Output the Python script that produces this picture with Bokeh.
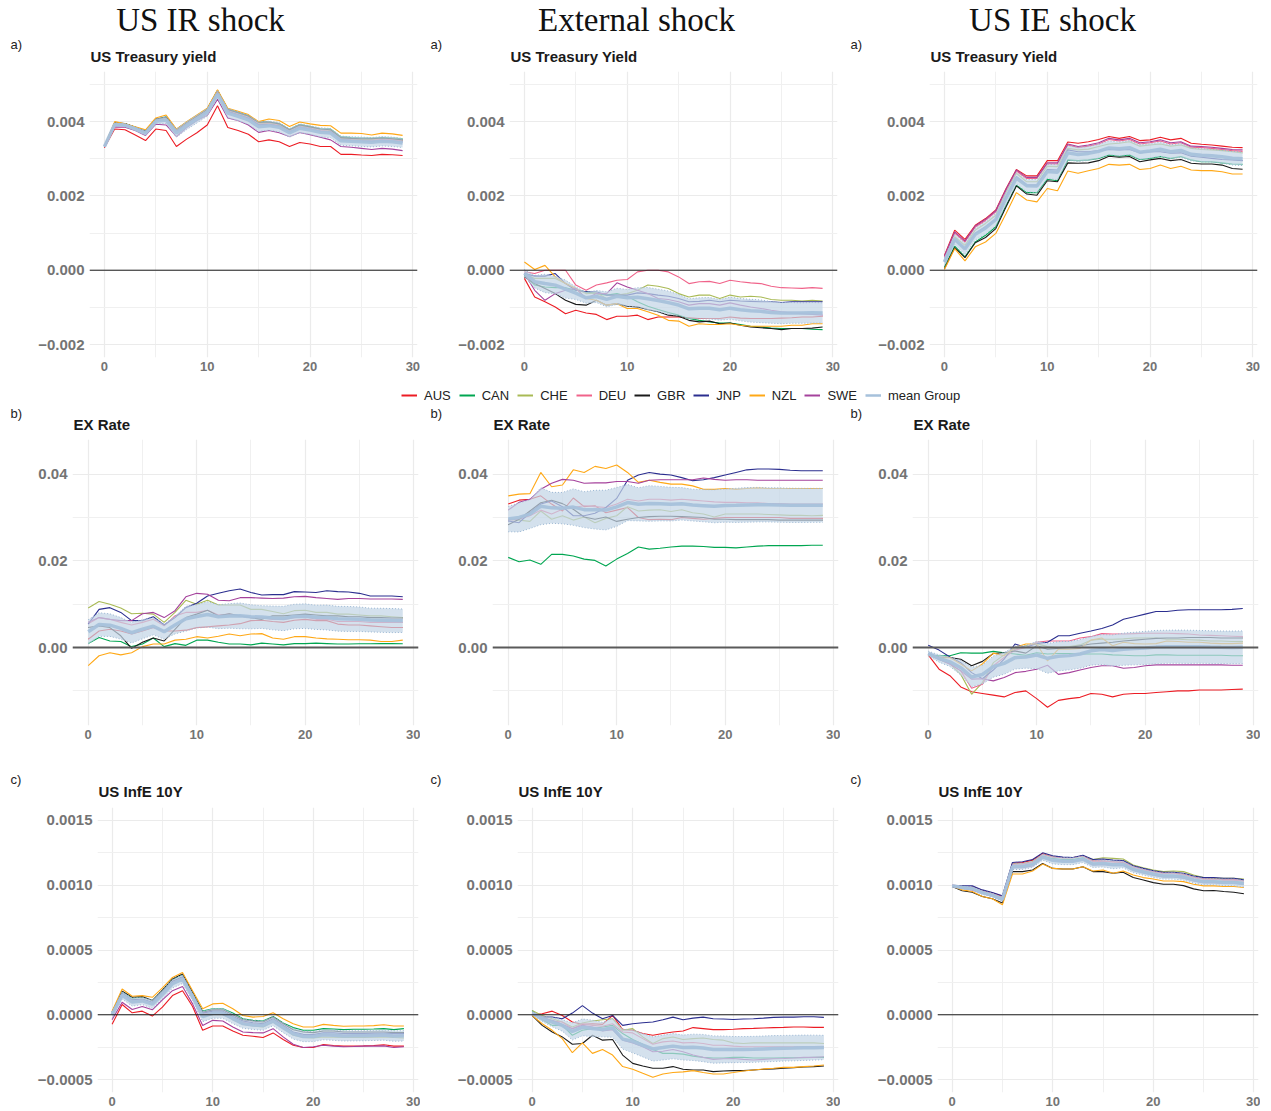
import math
from bokeh.plotting import figure
from bokeh.models import (Label, Legend, LegendItem, FixedTicker,
                          CustomJSTickFormatter, Span, Range1d)
from bokeh.layouts import column, row
from bokeh.embed import file_html
from bokeh.resources import INLINE

# ---------------------------------------------------------------- data
HORIZON = list(range(30))
COUNTRIES = ["AUS", "CAN", "CHE", "DEU", "GBR", "JNP", "NZL", "SWE"]
SHOCKS = ["US IR shock", "External shock", "US IE shock"]
TITLES = [["US Treasury yield", "US Treasury Yield", "US Treasury Yield"],
          ["EX Rate", "EX Rate", "EX Rate"],
          ["US InfE 10Y", "US InfE 10Y", "US InfE 10Y"]]
TAGS = ["a)", "b)", "c)"]
UNITS = [1e-4, 1e-3, 1e-5]          # the lists below are in these units
X_TICKS = [0, 10, 20, 30]
Y_TICKS = [[-0.002, 0.0, 0.002, 0.004],
           [0.0, 0.02, 0.04],
           [-0.0005, 0.0, 0.0005, 0.001, 0.0015]]
Y_DECIMALS = [3, 2, 4]

# --- row a) US Treasury yield (1e-4)
TY_IR_AUS = [33.0, 38.0, 37.8, 36.4, 34.9, 38.0, 37.6, 33.3, 35.3, 37.0, 39.1, 44.3, 38.4, 37.6, 36.6, 34.6, 35.1, 34.6, 33.3, 34.4, 34.0, 33.3, 33.3, 31.2, 31.2, 31.0, 30.9, 31.2, 31.1, 30.9]
TY_IR_CAN = [33.4, 39.6, 39.4, 38.5, 37.5, 40.6, 41.3, 37.8, 39.8, 41.6, 43.4, 48.3, 43.3, 42.5, 41.6, 39.8, 39.9, 39.5, 37.9, 39.2, 38.7, 38.1, 38.0, 35.9, 35.7, 35.6, 35.5, 35.7, 35.6, 35.4]
TY_IR_CHE = [33.3, 39.5, 39.4, 38.4, 37.3, 40.5, 41.0, 37.6, 39.6, 41.4, 43.2, 48.2, 43.1, 42.2, 41.3, 39.5, 39.6, 39.2, 37.6, 38.9, 38.4, 37.8, 37.6, 35.5, 35.3, 35.2, 35.2, 35.4, 35.3, 35.0]
TY_IR_DEU = [33.3, 39.3, 39.2, 38.3, 37.1, 40.3, 40.8, 37.4, 39.4, 41.2, 43.0, 47.9, 42.9, 42.0, 41.1, 39.3, 39.4, 39.0, 37.4, 38.7, 38.2, 37.6, 37.4, 35.3, 35.1, 35.0, 35.0, 35.2, 35.1, 34.8]
TY_IR_GBR = [33.4, 39.7, 39.5, 38.5, 37.4, 40.7, 41.2, 37.9, 39.8, 41.5, 43.3, 48.4, 43.3, 42.4, 41.5, 39.8, 39.9, 39.4, 37.8, 39.1, 38.6, 38.0, 37.8, 35.7, 35.5, 35.4, 35.4, 35.6, 35.4, 35.1]
TY_IR_JNP = [33.3, 39.2, 39.1, 38.2, 37.0, 40.2, 40.6, 37.3, 39.3, 41.0, 42.8, 47.7, 42.7, 41.8, 40.9, 39.1, 39.2, 38.8, 37.2, 38.5, 38.0, 37.4, 37.2, 35.1, 34.9, 34.8, 34.7, 34.9, 34.8, 34.5]
TY_IR_NZL = [33.3, 40.0, 39.4, 38.6, 37.8, 41.0, 41.8, 38.0, 40.0, 41.8, 43.6, 48.6, 43.6, 42.8, 41.9, 40.0, 40.7, 40.3, 38.7, 39.9, 39.4, 39.0, 38.9, 36.9, 36.9, 36.8, 36.4, 36.9, 36.7, 36.3]
TY_IR_SWE = [33.2, 38.6, 38.5, 37.6, 36.3, 39.3, 39.1, 36.0, 38.4, 40.3, 41.7, 46.0, 41.0, 40.3, 39.1, 37.1, 37.6, 37.0, 36.0, 37.1, 36.5, 35.8, 35.1, 33.3, 33.1, 32.8, 32.5, 32.8, 32.6, 32.2]

TY_EX_AUS = [-2.2, -7.2, -8.5, -9.9, -11.7, -10.8, -11.5, -11.9, -13.3, -12.4, -12.4, -12.1, -13.3, -12.6, -12.6, -12.6, -12.8, -13.0, -13.0, -13.0, -12.6, -12.9, -13.0, -13.0, -13.0, -12.9, -12.8, -12.6, -12.6, -12.4]
TY_EX_CAN = [-1.3, -4.0, -4.5, -4.7, -4.7, -5.4, -5.8, -6.3, -6.7, -6.3, -7.0, -8.5, -9.7, -10.6, -11.4, -12.1, -13.0, -13.5, -13.9, -14.2, -14.2, -14.6, -15.1, -15.3, -15.6, -15.7, -15.7, -15.7, -15.9, -16.0]
TY_EX_CHE = [-0.9, -2.2, -2.2, -2.2, -3.6, -4.9, -6.3, -6.1, -7.6, -6.7, -6.3, -5.4, -4.0, -4.3, -4.9, -6.3, -7.2, -6.7, -6.7, -7.6, -6.7, -7.2, -7.0, -7.2, -7.9, -8.1, -8.1, -8.3, -8.1, -8.3]
TY_EX_DEU = [-0.45, -0.9, 0.0, 0.0, 0.0, -4.0, -5.4, -4.0, -3.4, -2.7, -2.5, -0.45, 0.0, 0.0, -0.45, -1.8, -3.6, -3.1, -3.0, -3.6, -2.7, -3.1, -3.4, -3.6, -4.3, -4.7, -4.8, -4.9, -4.7, -4.9]
TY_EX_GBR = [-1.8, -3.6, -4.9, -6.3, -8.1, -9.2, -9.4, -8.1, -9.4, -9.0, -9.7, -9.9, -10.6, -11.2, -12.1, -12.4, -13.5, -13.9, -13.7, -14.4, -14.2, -14.8, -15.3, -15.5, -15.7, -16.0, -15.7, -15.7, -15.6, -15.3]
TY_EX_JNP = [-0.9, -1.6, -1.6, -0.9, -3.6, -5.4, -5.8, -5.8, -6.7, -6.7, -6.7, -6.1, -6.3, -6.7, -7.0, -7.6, -8.5, -8.4, -8.1, -8.5, -8.1, -8.3, -8.4, -8.5, -8.5, -8.7, -8.5, -8.5, -8.5, -8.5]
TY_EX_NZL = [2.2, 0.2, 1.3, -1.8, -3.6, -4.9, -7.6, -8.1, -9.4, -9.0, -10.3, -10.3, -11.2, -12.1, -13.5, -13.7, -15.1, -14.4, -14.6, -14.6, -14.4, -14.8, -15.1, -15.1, -15.1, -15.1, -14.8, -14.8, -14.4, -14.4]
TY_EX_SWE = [-0.9, -5.4, -8.1, -6.3, -5.4, -4.9, -7.6, -6.3, -6.3, -3.4, -4.5, -5.4, -6.3, -7.6, -7.9, -8.5, -9.4, -9.0, -9.0, -9.4, -8.8, -9.4, -9.9, -10.3, -10.8, -11.2, -11.5, -11.7, -11.9, -12.1]

TY_IE_AUS = [4.0, 10.8, 8.3, 12.1, 13.9, 16.2, 22.0, 27.1, 25.4, 25.4, 29.5, 29.5, 34.5, 34.2, 34.6, 35.2, 36.0, 35.5, 36.0, 34.9, 35.1, 35.8, 35.1, 35.5, 34.2, 33.9, 33.7, 33.4, 33.1, 33.0]
TY_IE_CAN = [0.9, 6.5, 3.6, 7.6, 9.4, 11.7, 17.5, 22.9, 20.9, 20.9, 24.5, 24.1, 29.7, 29.5, 29.7, 30.1, 31.0, 30.7, 31.0, 29.8, 30.1, 30.6, 30.1, 30.6, 29.7, 29.2, 29.2, 28.9, 28.6, 28.5]
TY_IE_CHE = [2.7, 9.0, 6.7, 10.8, 12.6, 14.8, 20.9, 26.1, 23.8, 23.8, 28.0, 27.9, 32.8, 32.4, 32.6, 33.3, 34.0, 34.2, 34.6, 33.4, 33.7, 34.0, 33.4, 33.7, 32.8, 32.5, 32.4, 32.2, 31.9, 31.6]
TY_IE_DEU = [3.6, 10.0, 7.6, 11.6, 13.4, 15.7, 21.5, 26.7, 24.7, 24.7, 28.6, 28.6, 33.7, 33.0, 33.4, 34.0, 35.2, 34.8, 35.2, 34.0, 34.3, 34.8, 34.0, 34.3, 33.1, 33.0, 32.8, 32.5, 32.2, 32.0]
TY_IE_GBR = [0.4, 6.1, 3.4, 7.4, 8.8, 11.2, 17.1, 22.7, 20.5, 20.2, 24.1, 23.8, 28.9, 28.8, 28.9, 29.5, 30.7, 30.4, 30.6, 29.2, 29.7, 30.1, 29.5, 29.8, 28.8, 28.6, 28.6, 28.3, 27.4, 27.2]
TY_IE_JNP = [2.2, 8.1, 5.8, 9.9, 11.7, 13.7, 19.8, 25.2, 22.9, 22.9, 27.1, 27.0, 32.4, 31.9, 31.9, 32.2, 32.5, 32.4, 32.5, 31.6, 31.9, 31.9, 31.5, 31.6, 30.7, 30.4, 30.1, 29.8, 29.7, 29.5]
TY_IE_NZL = [0.2, 5.8, 2.5, 6.3, 7.6, 9.9, 15.3, 20.9, 18.9, 18.4, 22.0, 21.4, 26.7, 26.1, 26.8, 27.4, 28.5, 28.3, 28.5, 27.1, 27.4, 28.3, 27.4, 28.0, 27.0, 26.8, 26.8, 26.5, 25.9, 25.9]
TY_IE_SWE = [3.8, 10.3, 7.9, 11.9, 13.7, 16.0, 21.8, 27.0, 25.0, 25.0, 28.9, 28.9, 34.0, 33.3, 33.7, 34.3, 35.5, 35.1, 35.5, 34.3, 34.6, 35.1, 34.3, 34.6, 33.4, 33.3, 33.1, 32.8, 32.5, 32.4]

# --- row b) EX Rate (1e-3)
EX_IR_AUS = [1.9, 3.8, 4.2, 3.8, 3.1, 3.8, 4.6, 3.8, 3.8, 4.0, 4.6, 4.8, 5.0, 5.2, 5.5, 6.2, 6.3, 6.0, 5.8, 6.3, 6.5, 6.2, 6.2, 5.4, 5.2, 5.2, 5.0, 4.8, 4.6, 4.6]
EX_IR_CAN = [0.9, 2.3, 1.5, 1.4, 0.2, 0.8, 2.2, 0.2, 0.9, 0.5, 1.7, 1.7, 1.2, 0.8, 0.8, 0.6, 1.0, 0.8, 0.6, 0.9, 0.9, 1.0, 0.9, 0.8, 0.8, 0.85, 0.85, 0.9, 0.9, 0.85]
EX_IR_CHE = [9.1, 10.6, 10.0, 9.1, 7.8, 7.9, 7.7, 5.8, 8.1, 10.9, 10.0, 10.9, 9.8, 9.8, 9.8, 8.8, 8.8, 8.3, 7.8, 8.5, 8.6, 8.1, 8.1, 7.7, 7.7, 7.5, 7.3, 7.3, 7.1, 6.9]
EX_IR_DEU = [5.5, 6.9, 6.5, 5.8, 5.2, 5.8, 6.5, 5.0, 7.3, 8.1, 8.1, 8.6, 7.5, 7.7, 7.3, 6.9, 6.9, 6.5, 6.5, 6.9, 7.1, 6.5, 6.5, 6.0, 6.0, 6.0, 5.8, 5.8, 5.8, 5.8]
EX_IR_GBR = [4.6, 5.0, 4.6, 2.7, -0.2, 1.2, 2.2, 1.5, 4.2, 6.9, 7.7, 8.6, 7.3, 7.8, 7.3, 6.9, 6.5, 7.3, 7.3, 7.5, 7.7, 7.5, 7.3, 7.3, 7.1, 7.1, 6.9, 6.9, 6.8, 6.8]
EX_IR_JNP = [5.4, 8.8, 9.2, 8.1, 6.2, 6.2, 7.1, 5.2, 6.9, 9.2, 10.2, 11.9, 12.5, 13.1, 13.5, 12.7, 12.1, 12.2, 12.2, 12.9, 12.8, 12.7, 13.1, 12.9, 12.8, 12.5, 11.9, 11.9, 11.9, 11.7]
EX_IR_NZL = [-4.2, -1.9, -1.2, -1.7, -1.2, 0.2, 0.8, 0.8, 1.7, 1.9, 2.5, 2.2, 2.6, 3.1, 2.7, 3.1, 3.2, 2.2, 1.9, 2.5, 2.5, 2.2, 2.0, 1.9, 1.8, 1.8, 1.7, 1.4, 1.4, 1.7]
EX_IR_SWE = [5.8, 6.9, 6.5, 6.2, 6.2, 7.8, 8.1, 6.9, 8.5, 11.7, 12.5, 12.3, 10.9, 10.8, 11.5, 11.5, 11.4, 11.3, 11.4, 11.7, 11.8, 11.5, 11.3, 11.1, 11.3, 11.3, 11.2, 11.2, 11.2, 11.1]

EX_EX_AUS = [33.1, 34.0, 34.2, 35.0, 33.1, 31.5, 34.5, 32.5, 32.7, 31.1, 31.7, 32.3, 30.0, 29.5, 29.6, 29.5, 30.0, 29.8, 29.6, 29.8, 30.0, 30.0, 30.0, 30.0, 30.0, 30.0, 29.8, 29.8, 29.8, 29.8]
EX_EX_CAN = [20.8, 19.8, 20.2, 19.2, 21.5, 21.5, 21.1, 20.4, 20.1, 18.8, 20.4, 21.7, 23.2, 22.7, 22.9, 23.2, 23.4, 23.4, 23.3, 23.1, 23.1, 23.0, 23.2, 23.4, 23.5, 23.5, 23.5, 23.5, 23.6, 23.6]
EX_EX_CHE = [29.6, 29.4, 29.1, 31.5, 29.6, 30.4, 29.4, 30.1, 28.8, 29.8, 30.4, 32.5, 31.5, 31.7, 31.8, 31.4, 31.8, 31.1, 30.8, 30.1, 30.8, 30.8, 30.8, 30.8, 30.7, 30.6, 30.5, 30.5, 30.4, 30.5]
EX_EX_DEU = [29.4, 29.6, 30.4, 31.7, 30.8, 31.9, 32.3, 32.7, 32.5, 32.3, 33.1, 34.2, 33.8, 34.2, 34.2, 34.0, 34.2, 34.0, 33.8, 33.6, 33.5, 33.5, 33.4, 33.4, 33.2, 33.2, 33.1, 33.1, 33.1, 33.1]
EX_EX_GBR = [28.3, 29.6, 31.5, 33.4, 34.0, 33.2, 31.9, 30.1, 29.6, 30.1, 29.1, 29.6, 30.0, 30.2, 30.3, 30.3, 30.2, 30.1, 30.0, 29.6, 29.6, 29.5, 29.5, 29.5, 29.5, 29.4, 29.4, 29.4, 29.4, 29.4]
EX_EX_JNP = [29.2, 28.8, 31.1, 33.1, 33.8, 32.5, 30.4, 30.4, 31.0, 32.3, 34.4, 38.6, 39.8, 40.4, 40.0, 39.8, 39.2, 38.5, 38.7, 39.2, 39.8, 40.4, 41.0, 41.2, 41.2, 41.1, 40.9, 40.8, 40.8, 40.8]
EX_EX_NZL = [35.0, 35.4, 35.5, 40.4, 37.1, 37.5, 41.0, 40.4, 41.8, 41.3, 42.1, 40.4, 38.1, 38.6, 38.1, 37.7, 37.7, 37.3, 36.5, 36.5, 36.7, 36.5, 36.7, 36.8, 36.7, 36.7, 36.7, 36.7, 36.7, 36.7]
EX_EX_SWE = [31.7, 33.5, 34.2, 36.5, 37.9, 38.8, 38.6, 37.9, 38.0, 38.0, 38.3, 38.3, 37.9, 38.6, 38.7, 38.7, 38.7, 38.7, 39.1, 38.8, 38.6, 38.7, 38.7, 38.6, 38.6, 38.6, 38.6, 38.6, 38.6, 38.6]

EX_IE_AUS = [-1.7, -5.0, -6.5, -9.1, -10.2, -10.6, -11.0, -11.4, -10.4, -10.0, -11.8, -13.8, -12.2, -11.8, -11.5, -10.6, -10.8, -11.4, -10.8, -10.6, -10.6, -10.4, -10.2, -10.0, -10.0, -9.8, -9.8, -9.8, -9.7, -9.6]
EX_IE_CAN = [-1.7, -1.9, -1.9, -1.2, -1.3, -1.3, -0.9, -1.2, -1.5, -1.8, -1.2, -1.5, -1.4, -1.4, -1.5, -1.5, -1.5, -1.7, -1.8, -1.9, -1.9, -1.7, -1.7, -1.8, -1.8, -1.8, -1.8, -1.8, -1.9, -1.9]
EX_IE_CHE = [-1.7, -2.7, -3.8, -6.2, -10.8, -8.1, -3.5, -1.7, -0.4, 0.4, 0.9, 0.2, 0.0, 0.2, 0.6, 1.7, 1.9, 1.9, 2.0, 2.2, 2.2, 2.2, 1.9, 1.9, 1.8, 1.7, 1.5, 1.5, 1.4, 1.4]
EX_IE_DEU = [-1.7, -2.7, -3.8, -5.4, -9.4, -8.5, -4.2, -2.3, -0.6, 0.0, 1.2, 1.5, 1.5, 1.5, 2.2, 2.5, 3.2, 3.1, 3.1, 3.2, 3.3, 3.3, 3.3, 3.2, 3.1, 2.9, 2.8, 2.7, 2.6, 2.5]
EX_IE_GBR = [-1.5, -2.2, -2.3, -2.7, -4.2, -3.2, -1.4, -1.2, -0.8, -1.3, 0.4, -0.4, -0.2, 0.0, 0.4, 0.8, 1.0, 1.2, 1.5, 1.7, 1.9, 2.1, 2.2, 2.2, 2.3, 2.3, 2.3, 2.2, 2.2, 2.2]
EX_IE_JNP = [0.5, -0.6, -2.2, -3.5, -5.8, -7.2, -5.2, -2.7, 0.8, 0.0, 0.9, 1.2, 2.7, 2.7, 3.3, 3.8, 4.4, 5.2, 6.5, 7.1, 7.7, 8.3, 8.3, 8.6, 8.7, 8.7, 8.7, 8.7, 8.8, 9.0]
EX_IE_NZL = [-1.7, -2.5, -2.3, -3.8, -5.4, -3.8, -1.3, -1.9, 0.0, 0.8, 0.8, -3.1, -0.4, -0.4, -0.2, 1.7, 2.2, 0.4, 1.2, 0.9, 0.8, 0.9, 1.5, 1.4, 1.2, 1.2, 1.0, 0.9, 0.9, 1.0]
EX_IE_SWE = [-1.5, -2.7, -3.8, -5.4, -7.3, -7.2, -7.7, -6.9, -5.8, -5.5, -5.0, -4.1, -6.2, -5.8, -5.2, -4.6, -4.2, -4.2, -4.8, -4.6, -4.2, -4.0, -4.0, -4.0, -4.0, -4.0, -4.0, -4.0, -4.1, -4.1]

# --- row c) US InfE 10Y (1e-5)
IF_IR_AUS = [-7.4, 7.9, 1.5, 2.8, -1.0, 5.9, 14.8, 18.6, 6.4, -12.0, -8.7, -8.7, -12.5, -15.8, -16.6, -17.6, -14.0, -19.1, -23.5, -25.3, -25.3, -23.0, -23.7, -24.2, -24.2, -24.0, -23.7, -23.2, -24.2, -24.2]
IF_IR_CAN = [2.0, 17.9, 12.8, 13.5, 11.0, 18.6, 27.3, 30.9, 16.8, 2.8, 4.6, 4.6, 1.3, -3.1, -4.3, -4.8, -1.3, -6.4, -9.9, -12.0, -12.0, -10.7, -11.0, -11.5, -11.2, -11.2, -11.0, -10.7, -11.5, -10.7]
IF_IR_CHE = [0.8, 14.8, 9.9, 10.5, 8.4, 15.6, 23.7, 27.0, 13.5, -1.3, 0.3, 0.3, -3.8, -7.4, -8.7, -9.4, -5.6, -10.7, -15.8, -17.6, -17.9, -17.1, -17.3, -17.6, -17.6, -17.6, -17.3, -17.1, -17.6, -17.9]
IF_IR_DEU = [0.8, 15.6, 11.0, 11.5, 9.2, 16.6, 25.0, 28.8, 14.8, 0.3, 1.8, 1.8, -2.3, -5.9, -6.9, -7.4, -3.8, -8.9, -14.0, -15.8, -15.8, -15.1, -15.3, -15.8, -15.8, -15.8, -15.3, -15.3, -15.8, -15.8]
IF_IR_GBR = [2.0, 18.1, 13.5, 14.0, 11.0, 19.1, 27.6, 31.4, 17.3, 2.0, 3.8, 3.8, 0.0, -3.8, -4.8, -5.6, -1.8, -6.9, -11.5, -13.3, -13.8, -12.5, -12.5, -13.3, -13.3, -13.3, -13.3, -13.3, -13.8, -13.8]
IF_IR_JNP = [1.3, 16.6, 11.5, 12.2, 9.7, 17.3, 25.8, 29.3, 15.3, 1.3, 2.8, 2.8, -1.3, -4.8, -6.1, -6.9, -3.1, -8.2, -13.3, -15.1, -15.3, -14.0, -14.0, -14.5, -14.5, -14.5, -14.3, -14.3, -14.5, -14.5]
IF_IR_NZL = [2.8, 19.9, 14.3, 14.8, 13.5, 20.7, 28.8, 32.7, 18.6, 4.6, 8.4, 8.9, 4.6, -0.5, -1.8, -1.3, 1.5, -3.1, -6.9, -9.4, -9.4, -7.4, -8.2, -8.9, -8.7, -8.7, -8.4, -7.7, -8.7, -8.7]
IF_IR_SWE = [-3.8, 9.7, 4.1, 6.4, 3.8, 11.5, 18.6, 21.9, 8.4, -8.2, -4.3, -4.8, -9.4, -13.3, -13.8, -14.0, -10.7, -17.1, -22.7, -25.3, -24.7, -23.5, -24.2, -24.7, -24.5, -24.2, -24.2, -24.0, -25.3, -24.7]

IF_EX_AUS = [0.3, 0.8, 2.8, -0.5, -5.6, -7.4, -6.9, -7.4, -0.5, -11.5, -12.0, -14.5, -15.8, -14.5, -13.3, -12.5, -9.9, -10.7, -11.5, -11.5, -11.2, -10.7, -10.5, -10.2, -9.9, -9.7, -9.4, -9.4, -9.7, -9.7]
IF_EX_CAN = [3.3, -3.8, -8.2, -8.2, -15.8, -12.0, -10.7, -9.4, -8.2, -14.5, -19.1, -22.7, -26.8, -29.8, -29.8, -30.4, -31.9, -32.9, -33.4, -33.4, -32.9, -32.9, -33.4, -33.4, -33.4, -33.2, -33.2, -33.2, -32.9, -32.9]
IF_EX_CHE = [3.3, -0.5, -3.1, -5.6, -9.4, -6.4, -4.8, -3.8, -3.1, -12.0, -10.7, -17.1, -22.2, -18.4, -17.1, -19.1, -18.4, -17.9, -19.1, -19.6, -21.7, -22.2, -21.7, -21.7, -21.7, -21.7, -21.7, -21.7, -21.7, -22.2]
IF_EX_DEU = [2.0, -1.8, -4.8, -5.6, -10.7, -6.9, -8.2, -8.9, -6.9, -13.3, -14.0, -18.4, -22.7, -20.9, -20.2, -21.7, -21.4, -22.2, -23.5, -23.5, -24.2, -24.7, -24.7, -24.7, -24.7, -24.7, -24.7, -24.7, -24.7, -24.7]
IF_EX_GBR = [-0.5, -8.2, -13.3, -17.1, -22.7, -22.2, -15.8, -19.6, -19.1, -31.1, -37.5, -39.5, -41.3, -41.3, -40.0, -42.1, -42.6, -42.6, -43.9, -43.4, -43.1, -43.1, -42.6, -42.1, -41.8, -41.3, -40.8, -40.3, -40.0, -39.5]
IF_EX_JNP = [0.8, -1.8, -1.8, -3.1, 1.3, 7.1, 1.3, -3.1, -0.5, -8.2, -6.9, -6.1, -5.6, -3.8, -1.8, -3.8, -2.6, -1.8, -3.1, -3.3, -3.6, -3.3, -3.1, -2.6, -2.0, -1.8, -1.8, -1.5, -1.5, -2.0]
IF_EX_NZL = [-0.5, -6.9, -12.0, -18.4, -29.3, -21.7, -29.8, -26.8, -31.1, -40.0, -42.1, -45.2, -48.2, -45.7, -44.6, -44.1, -43.1, -44.6, -45.7, -45.7, -44.6, -43.4, -42.6, -41.8, -41.3, -40.6, -40.6, -40.0, -39.5, -38.8]
IF_EX_SWE = [1.3, -2.3, -4.3, -7.4, -10.7, -8.2, -9.4, -12.5, -11.5, -19.6, -21.7, -24.7, -28.6, -28.1, -26.8, -28.6, -31.1, -32.9, -34.4, -33.9, -33.7, -34.4, -34.9, -34.4, -33.9, -33.7, -33.4, -32.9, -32.9, -32.4]

IF_IE_AUS = [99.7, 99.0, 99.0, 95.9, 93.9, 91.3, 116.8, 117.6, 119.4, 124.5, 122.0, 121.2, 121.2, 122.7, 118.6, 118.6, 118.1, 117.6, 114.3, 112.2, 110.5, 109.2, 109.2, 108.4, 106.1, 104.8, 104.8, 104.1, 104.1, 103.3]
IF_IE_CAN = [99.7, 98.7, 97.7, 94.6, 92.6, 89.3, 114.8, 114.8, 116.1, 122.5, 120.5, 119.9, 119.9, 121.2, 116.8, 117.3, 116.6, 116.6, 112.7, 111.0, 109.2, 107.7, 107.7, 106.6, 104.6, 103.3, 103.3, 102.8, 102.8, 102.0]
IF_IE_CHE = [99.7, 99.2, 98.7, 95.7, 93.6, 90.5, 116.3, 116.6, 118.1, 123.7, 121.7, 121.2, 121.2, 122.5, 119.9, 121.2, 120.7, 120.2, 115.6, 113.5, 111.7, 110.5, 111.0, 110.5, 107.9, 105.9, 105.4, 105.4, 105.4, 104.8]
IF_IE_DEU = [100.2, 99.2, 98.7, 95.7, 93.6, 90.5, 116.1, 116.3, 117.6, 123.7, 121.7, 121.2, 121.2, 122.5, 118.1, 118.6, 117.9, 117.9, 114.0, 112.2, 110.5, 109.0, 109.0, 107.9, 105.9, 104.8, 104.6, 104.1, 104.1, 103.3]
IF_IE_GBR = [99.0, 95.7, 94.6, 91.3, 89.5, 86.2, 110.5, 110.5, 111.7, 116.8, 113.0, 112.5, 112.5, 114.3, 110.5, 110.5, 109.2, 110.0, 105.9, 104.1, 102.0, 100.8, 100.8, 99.7, 97.2, 95.7, 95.9, 95.2, 94.6, 93.4]
IF_IE_JNP = [99.7, 99.5, 99.5, 96.4, 94.4, 91.8, 117.6, 118.1, 119.9, 125.0, 122.7, 121.7, 121.4, 123.2, 119.9, 120.2, 119.4, 119.1, 115.1, 113.0, 111.2, 110.0, 110.0, 109.2, 107.1, 105.9, 105.9, 105.4, 105.4, 104.1]
IF_IE_NZL = [99.5, 96.4, 95.2, 91.3, 89.5, 84.9, 108.7, 108.7, 111.0, 116.3, 113.0, 112.5, 112.5, 114.3, 111.0, 111.7, 109.2, 111.0, 107.9, 105.9, 104.8, 103.3, 103.3, 102.8, 100.8, 99.5, 99.5, 99.0, 99.0, 98.2]
IF_IE_SWE = [99.2, 97.7, 96.4, 93.6, 91.6, 88.5, 113.5, 113.5, 114.8, 121.2, 119.1, 118.6, 118.6, 119.9, 115.6, 116.1, 115.3, 115.3, 111.5, 109.7, 107.9, 106.4, 106.4, 105.4, 103.3, 102.0, 102.0, 101.5, 101.5, 100.8]

# ---------------------------------------------------------------- styles
COLORS = {"AUS": "#EC1C24", "CAN": "#00A651", "CHE": "#A9BA55", "DEU": "#F0638A",
          "GBR": "#1A1A1A", "JNP": "#2B2E8F", "NZL": "#FFA816", "SWE": "#A5429C"}
MEAN_COLOR = "#A6C1DB"
BAND_COLOR = "#C4D6E6"
SANS = "Liberation Sans"

PANEL_DATA = [
    [dict(zip(COUNTRIES, [TY_IR_AUS, TY_IR_CAN, TY_IR_CHE, TY_IR_DEU, TY_IR_GBR, TY_IR_JNP, TY_IR_NZL, TY_IR_SWE])),
     dict(zip(COUNTRIES, [TY_EX_AUS, TY_EX_CAN, TY_EX_CHE, TY_EX_DEU, TY_EX_GBR, TY_EX_JNP, TY_EX_NZL, TY_EX_SWE])),
     dict(zip(COUNTRIES, [TY_IE_AUS, TY_IE_CAN, TY_IE_CHE, TY_IE_DEU, TY_IE_GBR, TY_IE_JNP, TY_IE_NZL, TY_IE_SWE]))],
    [dict(zip(COUNTRIES, [EX_IR_AUS, EX_IR_CAN, EX_IR_CHE, EX_IR_DEU, EX_IR_GBR, EX_IR_JNP, EX_IR_NZL, EX_IR_SWE])),
     dict(zip(COUNTRIES, [EX_EX_AUS, EX_EX_CAN, EX_EX_CHE, EX_EX_DEU, EX_EX_GBR, EX_EX_JNP, EX_EX_NZL, EX_EX_SWE])),
     dict(zip(COUNTRIES, [EX_IE_AUS, EX_IE_CAN, EX_IE_CHE, EX_IE_DEU, EX_IE_GBR, EX_IE_JNP, EX_IE_NZL, EX_IE_SWE]))],
    [dict(zip(COUNTRIES, [IF_IR_AUS, IF_IR_CAN, IF_IR_CHE, IF_IR_DEU, IF_IR_GBR, IF_IR_JNP, IF_IR_NZL, IF_IR_SWE])),
     dict(zip(COUNTRIES, [IF_EX_AUS, IF_EX_CAN, IF_EX_CHE, IF_EX_DEU, IF_EX_GBR, IF_EX_JNP, IF_EX_NZL, IF_EX_SWE])),
     dict(zip(COUNTRIES, [IF_IE_AUS, IF_IE_CAN, IF_IE_CHE, IF_IE_DEU, IF_IE_GBR, IF_IE_JNP, IF_IE_NZL, IF_IE_SWE]))],
]

# ---------------------------------------------------------------- geometry (page pixels)
Y_LIMITS = [(-0.00235, 0.00535), (-0.018, 0.048), (-0.0006, 0.0016)]
Y_MINOR = [[-0.001, 0.001, 0.003, 0.005], [-0.01, 0.01, 0.03],
           [-0.00025, 0.00025, 0.00075, 0.00125]]
COL_W = 420
TOTAL_W = 3 * COL_W
STRIP_H = [71, 60, 60]
FRAME_H = [286, 286, 285]
BOTTOM = [22, 22, 18]
FRAME_LEFT = [89, 72, 97]      # frame left edge measured from each column start
FRAME_W = [328, 346, 321]
HEAD_CENTER = [200, 216, 212]  # header centre measured from each column start
TAG_Y = [44, 34, 32]
TITLE_Y = [56, 45, 44]


def group_stats(series):
    mean, lo, hi = [], [], []
    n = len(COUNTRIES)
    for t in HORIZON:
        vals = [series[c][t] for c in COUNTRIES]
        m = sum(vals) / n
        sd = math.sqrt(sum((v - m) ** 2 for v in vals) / (n - 1))
        half = 1.96 * sd / math.sqrt(n)
        mean.append(m)
        lo.append(m - half)
        hi.append(m + half)
    return mean, lo, hi


def make_panel(r, c):
    unit = UNITS[r]
    series = {k: [v * unit for v in vals] for k, vals in PANEL_DATA[r][c].items()}
    left = FRAME_LEFT[r]
    right = COL_W - left - FRAME_W[r]
    p = figure(width=COL_W, height=FRAME_H[r] + BOTTOM[r], output_backend="svg",
               toolbar_location=None, title_location=None,
               x_range=Range1d(-1.45, 30.45), y_range=Range1d(*Y_LIMITS[r]),
               min_border_left=left, min_border_right=right,
               min_border_top=0, min_border_bottom=BOTTOM[r])
    p.outline_line_color = None
    p.background_fill_color = "white"
    p.border_fill_color = "white"

    p.xaxis.ticker = FixedTicker(ticks=X_TICKS, minor_ticks=[5, 15, 25])
    p.yaxis.ticker = FixedTicker(ticks=Y_TICKS[r], minor_ticks=Y_MINOR[r])
    dec = Y_DECIMALS[r]
    p.yaxis.formatter = CustomJSTickFormatter(
        code="return (tick < 0 ? '\u2212' : '') + Math.abs(tick).toFixed(%d);" % dec)
    for ax in (p.xaxis, p.yaxis):
        ax.axis_line_color = None
        ax.major_tick_line_color = None
        ax.minor_tick_line_color = None
        ax.major_tick_out = 0
        ax.major_tick_in = 0
        ax.minor_tick_out = 0
        ax.minor_tick_in = 0
        ax.major_label_text_font = SANS
        ax.major_label_text_font_style = "bold"
        ax.major_label_text_color = "#747474"
    p.xaxis.major_label_text_font_size = "13px"
    p.yaxis.major_label_text_font_size = "15px"
    p.xaxis.major_label_standoff = 4
    p.yaxis.major_label_standoff = 5
    for g in (p.xgrid, p.ygrid):
        g.grid_line_color = "#EBEBEB"
        g.grid_line_width = 1.2
        g.minor_grid_line_color = "#F0F0F0"
        g.minor_grid_line_width = 1.0

    if r == 1:
        p.add_layout(Span(location=0, dimension="width", line_color="#5A5A5A", line_width=2))
    else:
        p.add_layout(Span(location=0, dimension="width", line_color="#1A1A1A", line_width=1))

    for name in COUNTRIES:
        p.line(HORIZON, series[name], line_color=COLORS[name], line_width=1.1)

    mean, lo, hi = group_stats(series)
    p.varea(x=HORIZON, y1=lo, y2=hi, fill_color=BAND_COLOR, fill_alpha=0.72)
    p.line(HORIZON, lo, line_color="#9AB6D2", line_width=1, line_dash="1 2")
    p.line(HORIZON, hi, line_color="#9AB6D2", line_width=1, line_dash="1 2")
    p.line(HORIZON, mean, line_color=MEAN_COLOR, line_width=3.5, line_alpha=0.95)
    return p


def make_strip(r):
    """Text strip above a row of panels: coordinates are page pixels, y downwards."""
    h = STRIP_H[r]
    s = figure(width=TOTAL_W, height=h, output_backend="svg", toolbar_location=None,
               title_location=None, x_axis_type=None, y_axis_type=None,
               x_range=Range1d(0, TOTAL_W), y_range=Range1d(h, 0), min_border=0)
    s.outline_line_color = None
    s.background_fill_color = "white"
    s.border_fill_color = "white"
    for c in range(3):
        col0 = COL_W * c
        s.add_layout(Label(x=col0 + 10, y=TAG_Y[r], text=TAGS[r], text_font=SANS,
                           text_font_size="13px", text_color="#222222",
                           text_baseline="middle", text_align="left"))
        s.add_layout(Label(x=col0 + FRAME_LEFT[r] + 1, y=TITLE_Y[r], text=TITLES[r][c],
                           text_font=SANS, text_font_size="15px", text_font_style="bold",
                           text_color="#1A1A1A", text_baseline="middle", text_align="left"))
        if r == 0:
            s.add_layout(Label(x=col0 + HEAD_CENTER[c], y=19, text=SHOCKS[c],
                               text_font="Liberation Serif", text_font_size="33px",
                               text_color="#111111", text_baseline="middle",
                               text_align="center"))
    return s


panels = [[make_panel(r, c) for c in range(3)] for r in range(3)]
strips = [make_strip(r) for r in range(3)]

# ---------------------------------------------------------------- legend (in strip b)
NAN = float("nan")
items = []
for name in COUNTRIES:
    rr = strips[1].line([NAN, NAN], [NAN, NAN], line_color=COLORS[name], line_width=2)
    items.append(LegendItem(label=name, renderers=[rr]))
rr = strips[1].line([NAN, NAN], [NAN, NAN], line_color=MEAN_COLOR, line_width=2.5)
items.append(LegendItem(label="mean Group", renderers=[rr]))
legend = Legend(items=items, orientation="horizontal", location=(401, STRIP_H[1] - 16 - 8),
                glyph_width=16, glyph_height=16, label_standoff=7, spacing=8,
                padding=0, margin=0, border_line_color=None, background_fill_alpha=0,
                label_text_font=SANS, label_text_font_size="13px", label_text_color="#222222",
                label_height=16)
strips[1].add_layout(legend, "center")

layout = column(strips[0], row(*panels[0]), strips[1], row(*panels[1]),
                strips[2], row(*panels[2]))

open("out.html", "w").write(file_html(layout, INLINE))
